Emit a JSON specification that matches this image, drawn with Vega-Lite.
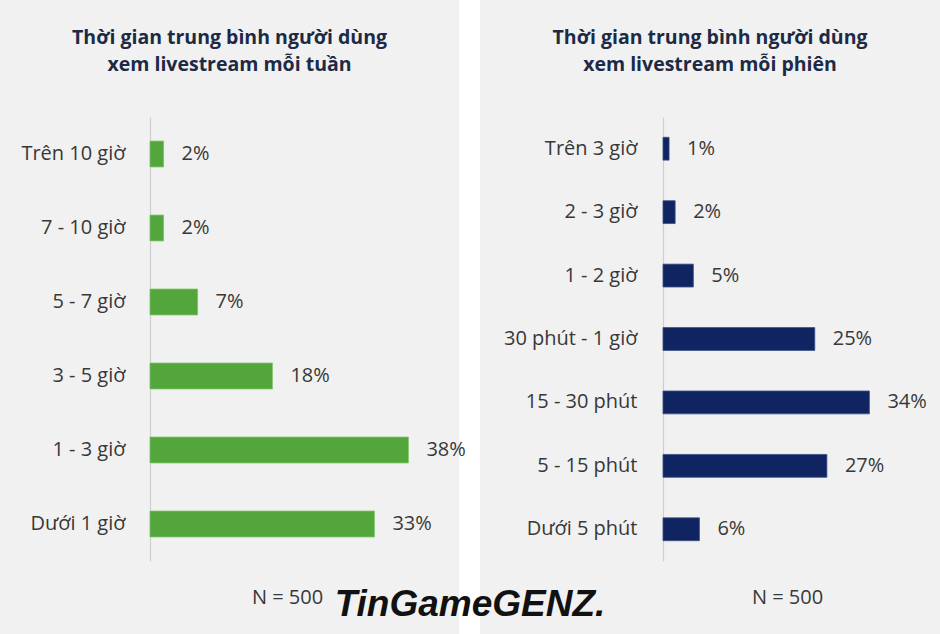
{
  "$schema": "https://vega.github.io/schema/vega-lite/v6.json",
  "background": "white",
  "padding": 0,
  "autosize": {"type": "pad"},
  "spacing": 14,
  "title": {
    "text": "TinGameGENZ.",
    "orient": "bottom",
    "anchor": "middle",
    "offset": -47,
    "font": "Liberation Sans",
    "fontSize": 37,
    "fontStyle": "italic",
    "fontWeight": "bold",
    "color": "#111111"
  },
  "config": {
    "view": {"fill": "#f1f1f1", "stroke": null},
    "font": "Open Sans",
    "title": {
      "font": "Open Sans",
      "fontSize": 19.5,
      "fontWeight": "bold",
      "color": "#1c2a46",
      "lineHeight": 27
    }
  },
  "hconcat": [
    {
      "width": 459,
      "height": 634,
      "title": {
        "text": ["Thời gian trung bình người dùng", "xem livestream mỗi tuần"],
        "anchor": "middle",
        "frame": "group",
        "baseline": "middle",
        "offset": -84.5
      },
      "data": {
        "values": [
          {"group": "Trên 10 giờ", "pct": 0.02},
          {"group": "7 - 10 giờ", "pct": 0.02},
          {"group": "5 - 7 giờ", "pct": 0.07},
          {"group": "3 - 5 giờ", "pct": 0.18},
          {"group": "1 - 3 giờ", "pct": 0.38},
          {"group": "Dưới 1 giờ", "pct": 0.33}
        ]
      },
      "encoding": {
        "y": {
          "field": "group",
          "type": "nominal",
          "sort": null,
          "scale": {"range": [117, 561], "paddingInner": 0.65, "paddingOuter": 0.325},
          "axis": {
            "title": null,
            "offset": -150,
            "ticks": false,
            "domainColor": "#cfcfcf",
            "domainWidth": 1.2,
            "labelPadding": 25,
            "labelFontSize": 20,
            "labelColor": "#383838",
            "labelFont": "Open Sans"
          }
        },
        "x": {
          "field": "pct",
          "type": "quantitative",
          "scale": {"domain": [0, 0.45], "range": [150, 456]},
          "axis": {
            "title": "N = 500",
            "labels": false,
            "ticks": false,
            "domain": false,
            "grid": false,
            "titleX": 287,
            "titleY": -37,
            "titleAlign": "center",
            "titleBaseline": "middle",
            "titleFontSize": 20,
            "titleFontWeight": "normal",
            "titleColor": "#383838",
            "titleFont": "Open Sans"
          }
        }
      },
      "layer": [
        {"mark": {"type": "bar", "color": "#52a63c", "stroke": "#7cc465", "strokeWidth": 0.8}},
        {
          "mark": {"type": "text", "align": "left", "baseline": "middle", "dx": 18, "fontSize": 20, "color": "#383838", "font": "Open Sans"},
          "encoding": {"text": {"field": "pct", "type": "quantitative", "format": ".0%"}}
        }
      ]
    },
    {
      "width": 460,
      "height": 634,
      "title": {
        "text": ["Thời gian trung bình người dùng", "xem livestream mỗi phiên"],
        "anchor": "middle",
        "frame": "group",
        "baseline": "middle",
        "offset": -84.5
      },
      "data": {
        "values": [
          {"group": "Trên 3 giờ", "pct": 0.01},
          {"group": "2 - 3 giờ", "pct": 0.02},
          {"group": "1 - 2 giờ", "pct": 0.05},
          {"group": "30 phút - 1 giờ", "pct": 0.25},
          {"group": "15 - 30 phút", "pct": 0.34},
          {"group": "5 - 15 phút", "pct": 0.27},
          {"group": "Dưới 5 phút", "pct": 0.06}
        ]
      },
      "encoding": {
        "y": {
          "field": "group",
          "type": "nominal",
          "sort": null,
          "scale": {"range": [117, 561], "paddingInner": 0.64, "paddingOuter": 0.32},
          "axis": {
            "title": null,
            "offset": -183,
            "ticks": false,
            "domainColor": "#cfcfcf",
            "domainWidth": 1.2,
            "labelPadding": 26,
            "labelFontSize": 20,
            "labelColor": "#383838",
            "labelFont": "Open Sans"
          }
        },
        "x": {
          "field": "pct",
          "type": "quantitative",
          "scale": {"domain": [0, 0.4], "range": [183, 425.8]},
          "axis": {
            "title": "N = 500",
            "labels": false,
            "ticks": false,
            "domain": false,
            "grid": false,
            "titleX": 307,
            "titleY": -37,
            "titleAlign": "center",
            "titleBaseline": "middle",
            "titleFontSize": 20,
            "titleFontWeight": "normal",
            "titleColor": "#383838",
            "titleFont": "Open Sans"
          }
        }
      },
      "layer": [
        {"mark": {"type": "bar", "color": "#0f2460", "stroke": "#3a4f86", "strokeWidth": 0.8}},
        {
          "mark": {"type": "text", "align": "left", "baseline": "middle", "dx": 18, "fontSize": 20, "color": "#383838", "font": "Open Sans"},
          "encoding": {"text": {"field": "pct", "type": "quantitative", "format": ".0%"}}
        }
      ]
    }
  ]
}
